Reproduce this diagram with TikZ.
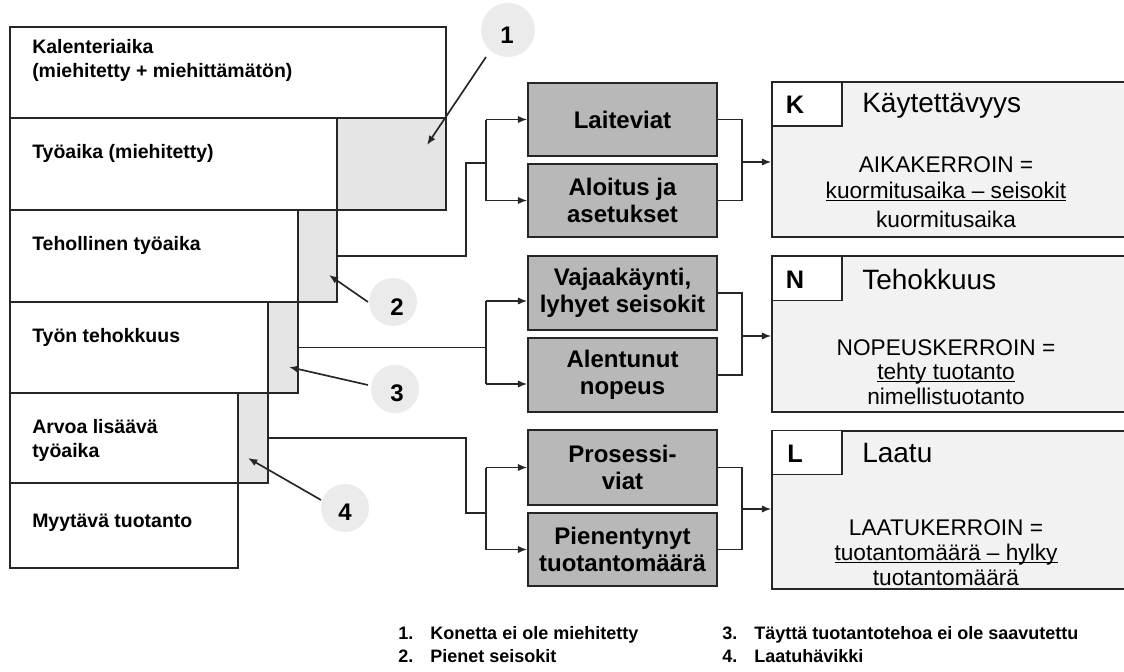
\documentclass[tikz,border=0pt]{standalone}
\usepackage{fontspec}
\setmainfont{Liberation Sans}
\usetikzlibrary{arrows.meta}
\newcommand\fsz[2]{\fontsize{#1}{#2}\selectfont}
\newcommand\ulx[1]{\setbox0\hbox{#1}\rlap{\rule[-2.6pt]{\wd0}{0.8pt}}\box0}
\begin{document}
\begin{tikzpicture}[x=0.75pt,y=-0.75pt,
  ln/.style={line width=1.25pt,draw=black!85},
  arr/.style={ln,-{Latex[length=7pt,width=5.5pt]}},
  row/.style={draw=black!85,line width=1.1pt,fill=white,rectangle},
  strip/.style={draw=black!85,line width=1.1pt,fill=black!10,rectangle},
  ltext/.style={anchor=west,font=\fsz{14.6}{18}\bfseries,align=left,inner sep=0pt},
  gbox/.style={draw=black!85,line width=1.1pt,fill=black!28,minimum width=141.75pt,align=center,font=\fsz{18}{20.25}\bfseries,inner sep=0pt},
  fbox/.style={draw=black!85,line width=1.1pt,fill=black!5,minimum width=276pt,inner sep=0pt},
  lbox/.style={draw=black!85,line width=1.1pt,fill=white,minimum width=52.5pt,minimum height=33pt,inner sep=0pt},
  lett/.style={font=\fsz{19}{20}\bfseries,inner sep=0pt},
  ttl/.style={anchor=west,font=\fsz{21}{24},inner sep=0pt},
  ftext/.style={anchor=base,font=\fsz{17}{20},inner sep=0pt},
  num/.style={font=\fsz{18}{20}\bfseries,inner sep=0pt},
  halo/.style={fill=black!8},
  foot/.style={anchor=west,font=\fsz{13.5}{16}\bfseries,inner sep=0pt}
]
\useasboundingbox (0,0) rectangle (1124,671);
\clip (0,0) rectangle (1124,671);
% halos
\fill[halo] (508,30) circle (27);
\fill[halo] (393,302) circle (24);
\fill[halo] (395,389) circle (24);
\fill[halo] (345,508) circle (24);
% left stair
\node[row,minimum width=327pt,minimum height=68.25pt] (r1) at (228,72.5) {};
\node[row,minimum width=245.25pt,minimum height=69pt] (r2) at (173.5,164) {};
\node[strip,minimum width=81.75pt,minimum height=69pt] (s2) at (391.5,164) {};
\node[row,minimum width=216pt,minimum height=69pt] (r3) at (154,256) {};
\node[strip,minimum width=29.25pt,minimum height=69pt] (s3) at (317.5,256) {};
\node[row,minimum width=193.5pt,minimum height=68.25pt] (r4) at (139,347.5) {};
\node[strip,minimum width=22.5pt,minimum height=68.25pt] (s4) at (283,347.5) {};
\node[row,minimum width=171pt,minimum height=67.5pt] (r5) at (124,438) {};
\node[strip,minimum width=22.5pt,minimum height=67.5pt] (s5) at (253,438) {};
\node[row,minimum width=171pt,minimum height=63.75pt] (r6) at (124,525.5) {};
\node[ltext] (t1) at (32,60) {Kalenteriaika\\(miehitetty + miehittämätön)};
\node[ltext] (t2) at (32,153) {Työaika (miehitetty)};
\node[ltext] (t3) at (32,245) {Tehollinen työaika};
\node[ltext] (t4) at (32,337) {Työn tehokkuus};
\node[ltext] (t5) at (32,440) {Arvoa lisäävä\\työaika};
\node[ltext] (t6) at (32,523) {Myytävä tuotanto};
% gray cause boxes
\node[gbox,minimum height=54.75pt] (lait) at (622.5,119.5) {Laiteviat};
\node[gbox,minimum height=54.75pt] (alo) at (622.5,200.5) {Aloitus ja\\asetukset};
\node[gbox,minimum height=55.5pt] (vaja) at (622.5,293) {Vajaakäynti,\\lyhyet seisokit};
\node[gbox,minimum height=55.5pt] (alen) at (622.5,375) {Alentunut\\nopeus};
\node[gbox,minimum height=56.25pt] (pros) at (622.5,467.5) {Prosessi-\\viat};
\node[gbox,minimum height=54.75pt] (pien) at (622.5,549.5) {Pienentynyt\\tuotantomäärä};
% result boxes
\node[fbox,minimum height=116.25pt] (kb) at (956,159.5) {};
\node[lbox] (kl) at (807,104) {};
\node[lett] (kk) at (795,105) {K};
\node[ttl] (kt) at (862,106) {Käytettävyys};
\node[ftext] (kf1) at (946,172) {AIKAKERROIN =};
\node[ftext] (kf2) at (946,198) {\ulx{kuormitusaika – seisokit}};
\node[ftext] (kf3) at (946,227) {kuormitusaika};
\node[fbox,minimum height=117pt] (nb) at (956,334) {};
\node[lbox] (nl) at (807,278.5) {};
\node[lett] (nn) at (795,279.5) {N};
\node[ttl] (nt) at (862,279) {Tehokkuus};
\node[ftext] (nf1) at (946,355) {NOPEUSKERROIN =};
\node[ftext] (nf2) at (946,379) {\ulx{tehty tuotanto}};
\node[ftext] (nf3) at (946,404) {nimellistuotanto};
\node[fbox,minimum height=118.5pt] (lb) at (956,510) {};
\node[lbox] (ll) at (807,452.5) {};
\node[lett] (lll) at (795,453.5) {L};
\node[ttl] (lt) at (862,453) {Laatu};
\node[ftext] (lf1) at (946,535) {LAATUKERROIN =};
\node[ftext] (lf2) at (946,560) {\ulx{tuotantomäärä – hylky}};
\node[ftext] (lf3) at (946,585) {tuotantomäärä};
% left connectors
\coordinate (ja) at (486,163);
\draw[ln] (s3.east) -- (466,256) -- (466,163) -- (ja);
\draw[ln] (ja |- lait.west) -- (ja |- alo.west);
\draw[arr] (ja |- lait.west) -- (lait.west);
\draw[arr] (ja |- alo.west) -- (alo.west);
\coordinate (jb) at (486,347.5);
\coordinate (b1) at (486,301);
\coordinate (b2) at (486,384);
\draw[ln] (s4.east) -- (jb);
\draw[ln] (b1) -- (b2);
\draw[arr] (b1) -- (b1 -| vaja.west);
\draw[arr] (b2) -- (b2 -| alen.west);
\coordinate (jc) at (486,513);
\draw[ln] (s5.east) -- (466,438) -- (466,513) -- (jc);
\draw[ln] (jc |- pros.west) -- (jc |- pien.west);
\draw[arr] (jc |- pros.west) -- (pros.west);
\draw[arr] (jc |- pien.west) -- (pien.west);
% right connectors
\coordinate (ka) at (742,162);
\draw[ln] (lait.east) -- (lait.east -| ka) -- (alo.east -| ka) -- (alo.east);
\draw[arr] (ka) -- (ka -| kb.west);
\coordinate (na) at (742,336);
\draw[ln] (vaja.east) -- (vaja.east -| na) -- (alen.east -| na) -- (alen.east);
\draw[arr] (na) -- (na -| nb.west);
\coordinate (la) at (742,509);
\draw[ln] (pros.east) -- (pros.east -| la) -- (pien.east -| la) -- (pien.east);
\draw[arr] (la) -- (la -| lb.west);
% numbered callouts
\node[num] (n1) at (507,35) {1};
\node[num] (n2) at (397,307) {2};
\node[num] (n3) at (397,393) {3};
\node[num] (n4) at (345,512) {4};
\coordinate (a1s) at (486,57); \coordinate (a1e) at (427,145);
\coordinate (a2s) at (368,302); \coordinate (a2e) at (329,275);
\coordinate (a3s) at (368,385); \coordinate (a3e) at (289,367);
\coordinate (a4s) at (321,500); \coordinate (a4e) at (248,458);
\draw[arr] (a1s) -- (a1e);
\draw[arr] (a2s) -- (a2e);
\draw[arr] (a3s) -- (a3e);
\draw[arr] (a4s) -- (a4e);
% footer
\node[foot] (f1) at (398,635) {\makebox[24pt][l]{1.}Konetta ei ole miehitetty};
\node[foot] (f2) at (398,656) {\makebox[24pt][l]{2.}Pienet seisokit};
\node[foot] (f3) at (722,635) {\makebox[24pt][l]{3.}Täyttä tuotantotehoa ei ole saavutettu};
\node[foot] (f4) at (722,656) {\makebox[24pt][l]{4.}Laatuhävikki};
\end{tikzpicture}
\end{document}
